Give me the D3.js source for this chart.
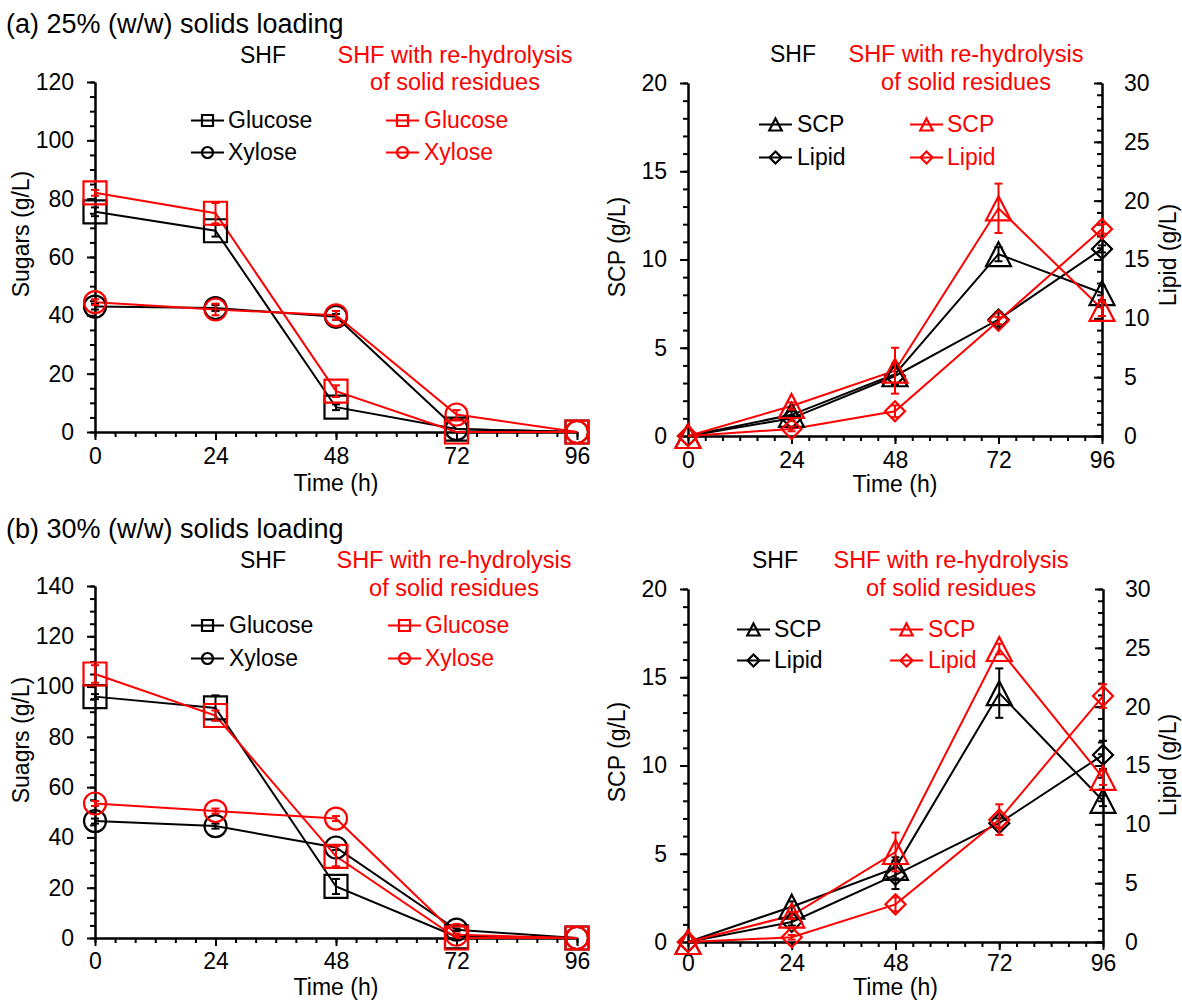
<!DOCTYPE html>
<html><head><meta charset="utf-8">
<script src="https://cdn.jsdelivr.net/npm/d3@7"></script>
<style>
body{margin:0;background:#fff}
svg{display:block}
text{font-family:"Liberation Sans",Arial,Helvetica,sans-serif}
</style>
</head><body>
<svg id="chart" width="1182" height="1000"></svg>
<script>
// ---------------- DATA ----------------
const time = [0, 24, 48, 72, 96];
const timeTicks = [0, 24, 48, 72, 96];
const sugarTicksA = [0, 20, 40, 60, 80, 100, 120];
const sugarTicksB = [0, 20, 40, 60, 80, 100, 120, 140];
const scpTicks = [0, 5, 10, 15, 20];
const lipidTicks = [0, 5, 10, 15, 20, 25, 30];

const panelTitles = ["(a) 25% (w/w) solids loading", "(b) 30% (w/w) solids loading"];
const groupNames = ["SHF", "SHF with re-hydrolysis", "of solid residues"];

// (a) 25% sugars
const glucoseA_SHF = [75.5, 69, 8.5, 1, 0];
const glucoseA_SHF_err = [1.5, 2, 1, 0, 0];
const xyloseA_SHF = [43, 42.5, 39.5, 1, 0];
const xyloseA_SHF_err = [1, 1, 1, 0, 0];
const glucoseA_RE = [82, 75, 14, 0, 0];
const glucoseA_RE_err = [1, 3.5, 2, 0, 0];
const xyloseA_RE = [44.5, 42, 40, 6, 0];
const xyloseA_RE_err = [1, 2, 1.5, 1.5, 0];

// (a) 25% SCP / lipid
const scpA_SHF = [0, 1.2, 3.5, 10.3, 8.1];
const scpA_SHF_err = [0, 0.2, 0.6, 0.4, 0.4];
const lipidA_SHF = [0, 1.5, 5.1, 9.9, 15.9];
const lipidA_SHF_err = [0, 0.2, 0.8, 0.6, 0.3];
const scpA_RE = [0, 1.7, 3.7, 12.9, 7.2];
const scpA_RE_err = [0, 0.2, 1.3, 1.4, 0.4];
const lipidA_RE = [0, 0.6, 2.1, 9.8, 17.6];
const lipidA_RE_err = [0, 0.2, 0.5, 0.3, 0.4];

// (b) 30% sugars
const glucoseB_SHF = [96, 91.5, 20.5, 0.5, 0];
const glucoseB_SHF_err = [1, 5, 3, 0, 0];
const xyloseB_SHF = [46.5, 44.5, 36, 3.3, 0];
const xyloseB_SHF_err = [1, 1, 1, 0.5, 0];
const glucoseB_RE = [105, 88.5, 32.5, 0, 0];
const glucoseB_RE_err = [3.5, 2, 4, 0, 0];
const xyloseB_RE = [53.5, 50.5, 47.5, 1.3, 0];
const xyloseB_RE_err = [1, 1, 1, 0.5, 0];

// (b) 30% SCP / lipid
const scpB_SHF = [0, 2.0, 4.2, 14.1, 8.0];
const scpB_SHF_err = [0, 0.3, 0.6, 1.4, 0.3];
const lipidB_SHF = [0, 1.7, 5.7, 10.1, 15.9];
const lipidB_SHF_err = [0, 0.3, 1.2, 0.4, 1.2];
const scpB_RE = [0, 1.5, 5.1, 16.6, 9.3];
const scpB_RE_err = [0, 0.2, 1.1, 0.3, 0.4];
const lipidB_RE = [0, 0.4, 3.2, 10.4, 20.9];
const lipidB_RE_err = [0, 0.2, 0.6, 1.3, 1.0];

// ---------------- DRAWING ----------------
const svg = d3.select("#chart");
const BLACK = "#000000", RED = "#ff0000";
const FONT = "Liberation Sans, Arial, sans-serif";

function markerPath(type, s) {
  if (type === "square") return `M${-s/2},${-s/2}h${s}v${s}h${-s}Z`;
  if (type === "triangle") { const w = s * 1.04, h = s; return `M0,${-h/2}L${w/2},${h/2}L${-w/2},${h/2}Z`; }
  if (type === "diamond") return `M0,${-s/2}L${s/2},0L0,${s/2}L${-s/2},0Z`;
  return null;
}
function drawMarker(g, type, cx, cy, s, color) {
  if (type === "circle") {
    g.append("circle").attr("cx", cx).attr("cy", cy).attr("r", s/2)
      .attr("fill", "none").attr("stroke", color).attr("stroke-width", 2.2);
  } else {
    g.append("path").attr("d", markerPath(type, s)).attr("transform", `translate(${cx},${cy})`)
      .attr("fill", "none").attr("stroke", color).attr("stroke-width", 2.2).attr("stroke-linejoin", "miter");
  }
}
const markerSize = {square: 23, circle: 22, triangle: 24, diamond: 20};
const legendSize = {square: 11, circle: 11, triangle: 12, diamond: 12};

function styleAxis(sel, fontSize) {
  sel.attr("font-family", FONT).attr("font-size", fontSize);
  sel.selectAll("path.domain").attr("stroke", BLACK).attr("stroke-width", 2);
  sel.selectAll(".tick line").attr("stroke", BLACK).attr("stroke-width", 2);
  sel.selectAll(".tick text").attr("fill", BLACK);
}

function drawPanel(p) {
  const g = svg.append("g");
  const x = d3.scaleLinear().domain([0, 96]).range([p.x0, p.x1]);
  const y = d3.scaleLinear().domain([0, p.yMax]).range([p.yB, p.yT]);
  const y2 = p.y2Max ? d3.scaleLinear().domain([0, p.y2Max]).range([p.yB, p.yT]) : null;

  // minor ticks
  g.append("g").attr("transform", `translate(0,${p.yB})`)
    .call(d3.axisBottom(x).tickValues(d3.range(0, 97, 4)).tickSize(5).tickSizeOuter(0).tickFormat(""))
    .call(s => styleAxis(s, 23));
  g.append("g").attr("transform", `translate(${p.x0},0)`)
    .call(d3.axisLeft(y).tickValues(d3.range(0, p.yMax + 0.001, p.yMinor)).tickSize(5).tickSizeOuter(0).tickFormat(""))
    .call(s => styleAxis(s, 23));
  if (y2) {
    g.append("g").attr("transform", `translate(${p.x1},0)`)
      .call(d3.axisRight(y2).tickValues(d3.range(0, p.y2Max + 0.001, 1)).tickSize(-5).tickSizeOuter(0).tickFormat(""))
      .call(s => styleAxis(s, 23));
  }
  // major
  g.append("g").attr("transform", `translate(0,${p.yB})`)
    .call(d3.axisBottom(x).tickValues(timeTicks).tickSize(8).tickSizeOuter(0).tickPadding(p.xPad))
    .call(s => styleAxis(s, 23));
  g.append("g").attr("transform", `translate(${p.x0},0)`)
    .call(d3.axisLeft(y).tickValues(p.yTicks).tickSize(8).tickSizeOuter(0).tickPadding(13))
    .call(s => styleAxis(s, 23));
  if (y2) {
    g.append("g").attr("transform", `translate(${p.x1},0)`)
      .call(d3.axisRight(y2).tickValues(lipidTicks).tickSize(-8).tickSizeOuter(0).tickPadding(22))
      .call(s => styleAxis(s, 23));
  }

  // axis titles
  g.append("text").attr("x", (p.x0 + p.x1) / 2).attr("y", p.timeY).attr("text-anchor", "middle")
    .attr("font-size", 23).text("Time (h)");
  g.append("text").attr("transform", `translate(${p.yLabX},${p.yLabY}) rotate(-90)`).attr("text-anchor", "middle")
    .attr("font-size", 23).text(p.yLabel);
  if (y2) {
    g.append("text").attr("transform", `translate(${p.y2LabX},${p.y2LabY}) rotate(-90)`).attr("text-anchor", "middle")
      .attr("font-size", 23).text(p.y2Label);
  }

  // series
  p.series.forEach(s => {
    const sc = s.axis === 2 ? y2 : y;
    const line = d3.line().x((d, i) => x(time[i])).y(d => sc(d));
    g.append("path").attr("d", line(s.values)).attr("fill", "none").attr("stroke", s.color).attr("stroke-width", 2);
  });
  p.series.forEach(s => {
    const sc = s.axis === 2 ? y2 : y;
    const eg = g.append("g").attr("stroke", s.color).attr("stroke-width", 2);
    s.values.forEach((v, i) => {
      const e = s.err[i];
      if (!e) return;
      const cx = x(time[i]);
      eg.append("line").attr("x1", cx).attr("x2", cx).attr("y1", sc(v - e)).attr("y2", sc(v + e));
      eg.append("line").attr("x1", cx - 4).attr("x2", cx + 4).attr("y1", sc(v - e)).attr("y2", sc(v - e));
      eg.append("line").attr("x1", cx - 4).attr("x2", cx + 4).attr("y1", sc(v + e)).attr("y2", sc(v + e));
    });
    s.values.forEach((v, i) => drawMarker(g, s.marker, x(time[i]), sc(v), markerSize[s.marker], s.color));
  });

  // legend
  p.legend.forEach(l => {
    const cy = l.base - 7.5;
    g.append("line").attr("x1", l.lx).attr("x2", l.lx + 33).attr("y1", cy).attr("y2", cy)
      .attr("stroke", l.color).attr("stroke-width", 2);
    drawMarker(g, l.marker, l.lx + 16.5, cy, legendSize[l.marker], l.color);
    g.append("text").attr("x", l.tx).attr("y", l.base).attr("fill", l.color).attr("font-size", 23).text(l.label);
  });

  // group header
  g.append("text").attr("x", p.hdr.shfX).attr("y", p.hdr.y1).attr("text-anchor", "middle").attr("font-size", 23)
    .attr("fill", BLACK).text(groupNames[0]);
  g.append("text").attr("x", p.hdr.reX).attr("y", p.hdr.y1).attr("text-anchor", "middle").attr("font-size", 23.5)
    .attr("fill", RED).text(groupNames[1]);
  g.append("text").attr("x", p.hdr.reX).attr("y", p.hdr.y2).attr("text-anchor", "middle").attr("font-size", 23.5)
    .attr("fill", RED).text(groupNames[2]);
}

// panel titles
svg.append("text").attr("x", 6).attr("y", 33).attr("font-size", 27).text(panelTitles[0]);
svg.append("text").attr("x", 6).attr("y", 538).attr("font-size", 27).text(panelTitles[1]);

// (a) left
drawPanel({
  x0: 95, x1: 577, yB: 432, yT: 82, yMax: 120, yMinor: 5, yTicks: sugarTicksA, xPad: 8,
  timeY: 491, yLabel: "Sugars (g/L)", yLabX: 29, yLabY: 234,
  hdr: {shfX: 263, reX: 455, y1: 63, y2: 90},
  series: [
    {values: glucoseA_SHF, err: glucoseA_SHF_err, color: BLACK, marker: "square"},
    {values: xyloseA_SHF, err: xyloseA_SHF_err, color: BLACK, marker: "circle"},
    {values: glucoseA_RE, err: glucoseA_RE_err, color: RED, marker: "square"},
    {values: xyloseA_RE, err: xyloseA_RE_err, color: RED, marker: "circle"}
  ],
  legend: [
    {lx: 191, tx: 228, base: 128, color: BLACK, marker: "square", label: "Glucose"},
    {lx: 191, tx: 228, base: 160, color: BLACK, marker: "circle", label: "Xylose"},
    {lx: 386, tx: 424, base: 128, color: RED, marker: "square", label: "Glucose"},
    {lx: 386, tx: 424, base: 160, color: RED, marker: "circle", label: "Xylose"}
  ]
});

// (a) right
drawPanel({
  x0: 688, x1: 1102, yB: 436, yT: 83, yMax: 20, yMinor: 1, yTicks: scpTicks, y2Max: 30, xPad: 8,
  timeY: 492, yLabel: "SCP (g/L)", yLabX: 625, yLabY: 247, y2Label: "Lipid (g/L)", y2LabX: 1176, y2LabY: 255,
  hdr: {shfX: 793, reX: 966, y1: 62, y2: 90},
  series: [
    {values: scpA_SHF, err: scpA_SHF_err, color: BLACK, marker: "triangle", axis: 1},
    {values: lipidA_SHF, err: lipidA_SHF_err, color: BLACK, marker: "diamond", axis: 2},
    {values: scpA_RE, err: scpA_RE_err, color: RED, marker: "triangle", axis: 1},
    {values: lipidA_RE, err: lipidA_RE_err, color: RED, marker: "diamond", axis: 2}
  ],
  legend: [
    {lx: 759, tx: 797, base: 132, color: BLACK, marker: "triangle", label: "SCP"},
    {lx: 759, tx: 797, base: 165, color: BLACK, marker: "diamond", label: "Lipid"},
    {lx: 910, tx: 947, base: 132, color: RED, marker: "triangle", label: "SCP"},
    {lx: 910, tx: 947, base: 165, color: RED, marker: "diamond", label: "Lipid"}
  ]
});

// (b) left
drawPanel({
  x0: 95, x1: 577, yB: 938, yT: 586, yMax: 140, yMinor: 5, yTicks: sugarTicksB, xPad: 7,
  timeY: 995, yLabel: "Suagrs (g/L)", yLabX: 29, yLabY: 740,
  hdr: {shfX: 263, reX: 454, y1: 568, y2: 596},
  series: [
    {values: glucoseB_SHF, err: glucoseB_SHF_err, color: BLACK, marker: "square"},
    {values: xyloseB_SHF, err: xyloseB_SHF_err, color: BLACK, marker: "circle"},
    {values: glucoseB_RE, err: glucoseB_RE_err, color: RED, marker: "square"},
    {values: xyloseB_RE, err: xyloseB_RE_err, color: RED, marker: "circle"}
  ],
  legend: [
    {lx: 191, tx: 229, base: 633, color: BLACK, marker: "square", label: "Glucose"},
    {lx: 191, tx: 229, base: 666, color: BLACK, marker: "circle", label: "Xylose"},
    {lx: 388, tx: 425, base: 633, color: RED, marker: "square", label: "Glucose"},
    {lx: 388, tx: 425, base: 666, color: RED, marker: "circle", label: "Xylose"}
  ]
});

// (b) right
drawPanel({
  x0: 688, x1: 1103, yB: 942, yT: 589, yMax: 20, yMinor: 1, yTicks: scpTicks, y2Max: 30, xPad: 5,
  timeY: 995, yLabel: "SCP (g/L)", yLabX: 625, yLabY: 752, y2Label: "Lipid (g/L)", y2LabX: 1176, y2LabY: 765,
  hdr: {shfX: 775, reX: 951, y1: 568, y2: 596},
  series: [
    {values: scpB_SHF, err: scpB_SHF_err, color: BLACK, marker: "triangle", axis: 1},
    {values: lipidB_SHF, err: lipidB_SHF_err, color: BLACK, marker: "diamond", axis: 2},
    {values: scpB_RE, err: scpB_RE_err, color: RED, marker: "triangle", axis: 1},
    {values: lipidB_RE, err: lipidB_RE_err, color: RED, marker: "diamond", axis: 2}
  ],
  legend: [
    {lx: 737, tx: 774, base: 637, color: BLACK, marker: "triangle", label: "SCP"},
    {lx: 737, tx: 774, base: 668, color: BLACK, marker: "diamond", label: "Lipid"},
    {lx: 890, tx: 928, base: 637, color: RED, marker: "triangle", label: "SCP"},
    {lx: 890, tx: 928, base: 668, color: RED, marker: "diamond", label: "Lipid"}
  ]
});
</script>
</body></html>
